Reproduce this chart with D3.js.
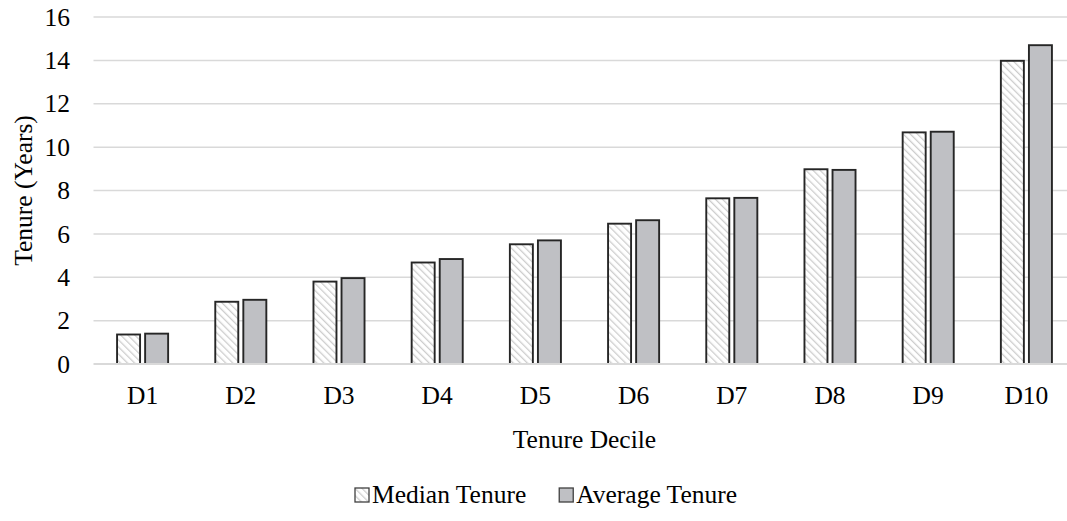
<!DOCTYPE html>
<html><head><meta charset="utf-8">
<script src="https://cdn.jsdelivr.net/npm/d3@7/dist/d3.min.js"></script>
<style>body{margin:0;background:#fff}</style>
</head><body>
<svg id="c" width="1067" height="521"></svg>
<script>
const categories = ["D1","D2","D3","D4","D5","D6","D7","D8","D9","D10"];
const medianTenure = [1.36, 2.87, 3.80, 4.68, 5.52, 6.47, 7.64, 8.98, 10.68, 13.98];
const averageTenure = [1.40, 2.96, 3.96, 4.84, 5.70, 6.63, 7.66, 8.95, 10.71, 14.70];
const seriesNames = ["Median Tenure","Average Tenure"];
const yTicks = [0,2,4,6,8,10,12,14,16];

(function(){
const svg = d3.select("#c");
const FF = "Liberation Serif";
const fs = "25.5px";
const pL = 93.5, pR = 1075.5, pT = 17, pB = 364;
function txt(sel){ return sel.style("font-family",FF).style("font-size",fs).attr("fill","#000"); }

const defs = svg.append("defs");
const pat = defs.append("pattern").attr("id","hatch").attr("patternUnits","userSpaceOnUse")
  .attr("width",5).attr("height",5).attr("patternTransform","rotate(-45)");
pat.append("rect").attr("width",5).attr("height",5).attr("fill","#fff");
pat.append("line").attr("x1",0).attr("y1",0).attr("x2",0).attr("y2",5)
  .attr("stroke","#cdcdcd").attr("stroke-width",2.6);

const x = d3.scaleBand().domain(categories).range([pL,pR]).paddingInner(0.48).paddingOuter(0.24);
const xs = d3.scaleBand().domain(seriesNames).range([0,x.bandwidth()]).paddingInner(0.18);
const y = d3.scaleLinear().domain([0,16]).range([pB,pT]);

svg.append("g").selectAll("line").data(yTicks.filter(d=>d>0)).join("line")
  .attr("x1",pL).attr("x2",pR).attr("y1",d=>y(d)).attr("y2",d=>y(d))
  .attr("stroke","#d9d9d9").attr("stroke-width",1.5);

txt(svg.append("g").selectAll("text").data(yTicks).join("text")
  .attr("x",70).attr("y",d=>y(d)).attr("dy","0.34em").attr("text-anchor","end")).text(d=>d);

const data = categories.map((c,i)=>({c, vals:[{s:seriesNames[0],v:medianTenure[i]},{s:seriesNames[1],v:averageTenure[i]}]}));
const fills = {"Median Tenure":"url(#hatch)","Average Tenure":"#bfc0c4"};

const g = svg.append("g").selectAll("g").data(data).join("g")
  .attr("transform",d=>`translate(${x(d.c)},0)`);
g.selectAll("rect").data(d=>d.vals).join("rect")
  .attr("x",d=>xs(d.s)).attr("width",xs.bandwidth())
  .attr("y",d=>y(d.v)).attr("height",d=>y(0)-y(d.v))
  .attr("fill",d=>fills[d.s]).attr("stroke","#262626").attr("stroke-width",1.9);

svg.append("line").attr("x1",pL).attr("x2",pR).attr("y1",y(0)).attr("y2",y(0))
  .attr("stroke","#d9d9d9").attr("stroke-width",1.8);

txt(svg.append("g").selectAll("text").data(categories).join("text")
  .attr("x",d=>x(d)+x.bandwidth()/2).attr("y",404).attr("text-anchor","middle")).text(d=>d);

txt(svg.append("text").attr("x",(pL+pR)/2).attr("y",448).attr("text-anchor","middle")).text("Tenure Decile");

txt(svg.append("text").attr("transform",`translate(32,${(pT+pB)/2}) rotate(-90)`)
  .attr("text-anchor","middle")).text("Tenure (Years)");

const leg = svg.append("g");
let lx = 355;
seriesNames.forEach((s,i)=>{
  leg.append("rect").attr("x",lx).attr("y",488).attr("width",14).attr("height",14)
    .attr("fill",fills[s]).attr("stroke","#404040").attr("stroke-width",1.3);
  const t = txt(leg.append("text").attr("x",lx+17).attr("y",503)).text(s);
  lx += 17 + t.node().getComputedTextLength() + 33;
});
})();
</script>
</body></html>
